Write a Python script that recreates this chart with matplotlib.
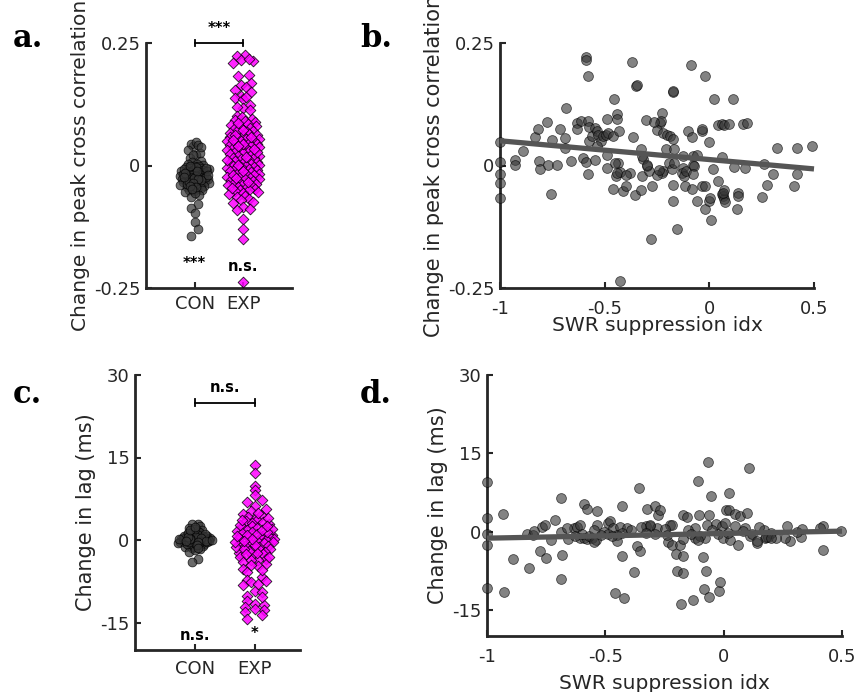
import numpy as np
import matplotlib
matplotlib.use('Agg')
import matplotlib.pyplot as plt

plt.rcParams['font.family'] = ['DejaVu Sans']
plt.rcParams['axes.unicode_minus'] = False

# ---- panel a: change in peak cross correlation per group
groups = ['CON', 'EXP']
con_peak = [0.040, 0.043, 0.047, 0.041, 0.032, 0.021, 0.025, 0.015, 0.022, 0.038,
            0.010, 0.007, 0.004, 0.003, 0.001, -0.001, -0.002, -0.004, -0.006, -0.005,
            -0.008, -0.009, -0.011, -0.010, -0.013, -0.012, -0.015, -0.016, -0.014, -0.018,
            -0.017, -0.020, -0.019, -0.021, -0.023, -0.022, -0.024, -0.026, -0.025, -0.027,
            -0.029, -0.028, -0.030, -0.032, -0.031, -0.033, -0.034, -0.036, -0.035, -0.038,
            -0.040, -0.039, -0.042, -0.044, -0.046, -0.048, -0.051, -0.053, -0.050, -0.055,
            -0.020, -0.038, -0.033, -0.023, -0.060, -0.064, -0.057, -0.078, -0.087, -0.096,
            -0.116, -0.130, -0.143, -0.012, -0.018, -0.025, -0.030, -0.008, -0.015, -0.003,
            -0.027, -0.035, -0.044, -0.005, -0.011, -0.019, -0.024, -0.041, -0.047, -0.002]
exp_peak = [0.225, 0.223, 0.214, 0.215, 0.209, 0.218, 0.185, 0.183, 0.168, 0.164,
            0.160, 0.154, 0.151, 0.142, 0.137, 0.135, 0.140, 0.123, 0.117, 0.113,
            0.120, 0.101, 0.093, 0.098, 0.095, 0.090, 0.088, 0.085, 0.083, 0.080,
            0.079, 0.076, 0.074, 0.071, 0.070, 0.068, 0.065, 0.066, 0.062, 0.061,
            0.059, 0.057, 0.055, 0.054, 0.051, 0.050, 0.049, 0.046, 0.044, 0.045,
            0.041, 0.040, 0.038, 0.035, 0.036, 0.033, 0.031, 0.029, 0.028, 0.025,
            0.024, 0.022, 0.020, 0.019, 0.016, 0.015, 0.013, 0.011, 0.010, 0.008,
            0.006, 0.005, 0.003, 0.001, 0.000, -0.002, -0.003, -0.005, -0.007, -0.008,
            -0.010, -0.012, -0.013, -0.015, -0.017, -0.018, -0.020, -0.022, -0.023, -0.025,
            -0.027, -0.028, -0.030, -0.032, -0.033, -0.035, -0.037, -0.039, -0.040, -0.042,
            -0.044, -0.045, -0.047, -0.049, -0.051, -0.052, -0.055, -0.057, -0.059, -0.062,
            -0.064, -0.068, -0.071, -0.075, -0.077, -0.085, -0.089, -0.091, -0.110, -0.130,
            -0.151, -0.237, 0.072, 0.058, 0.043, 0.027, 0.012, -0.004, -0.019, -0.034,
            0.063, 0.052, 0.039, 0.017, 0.002, -0.011, -0.026, -0.046, 0.086, 0.034]
peak_sig = ['***', 'n.s.']
peak_between = '***'

# ---- panel c: change in lag per group (ms)
con_lag = [3.0, 2.9, 2.6, 2.2, 1.9, 1.6, 1.4, 1.2, 1.0, 0.9,
           0.8, 0.7, 0.6, 0.5, 0.5, 0.4, 0.3, 0.3, 0.2, 0.2,
           0.1, 0.1, 0.0, 0.0, -0.1, -0.1, -0.2, -0.2, -0.3, -0.3,
           -0.4, -0.5, -0.5, -0.6, -0.7, -0.8, -0.9, -1.0, -1.1, -1.3,
           -1.5, -1.7, -2.1, -3.4, -4.0, 0.3, 0.6, 0.9, -0.4, -0.8,
           0.2, 0.4, 0.0, -0.2, 1.1, 1.5, -1.2, 0.7, -0.6, 0.1,
           0.3, -0.1, 0.5, 2.0, -1.9, 0.8, -0.3, 0.0, 1.3, -0.7,
           0.4, 0.2, -0.4, 0.6, -0.9, 1.8, 0.1, -0.2, 2.4, -1.4]
exp_lag = [13.7, 12.2, 9.8, 9.1, 8.2, 7.3, 7.0, 6.1, 5.6, 5.2,
           4.8, 4.5, 4.2, 3.9, 3.6, 3.4, 3.1, 2.9, 2.6, 2.4,
           2.2, 1.9, 1.7, 1.5, 1.3, 1.0, 0.8, 0.6, 0.4, 0.2,
           0.0, -0.2, -0.4, -0.6, -0.8, -1.0, -1.2, -1.4, -1.6, -1.9,
           -2.1, -2.3, -2.6, -2.8, -3.1, -3.4, -3.7, -4.0, -4.4, -4.8,
           -5.2, -5.8, -6.7, -7.3, -8.2, -7.6, -9.2, -9.5, -10.1, -11.0,
           -11.6, -11.9, -12.2, -12.8, -13.1, -14.3, -13.6, -10.4, -8.0, -7.4,
           3.3, 2.0, 1.1, 0.3, -0.5, -1.3, -2.4, -3.6, 4.0, 2.7,
           1.4, 0.5, -0.3, -1.1, -2.0, -3.0, 0.9, -0.9, 1.8, -1.7,
           2.5, -2.5, 0.1, -4.6, 5.0, -5.5, 0.7, -0.1, 3.7, -12.5]
lag_sig = ['n.s.', '*']
lag_between = 'n.s.'

# ---- panel b: peak change vs SWR suppression index
b_x = [-1.0, -1.0, -1.0, -1.0, -1.0, -0.93, -0.93, -0.889, -0.833, -0.82,
       -0.812, -0.81, -0.777, -0.769, -0.756, -0.75, -0.73, -0.713, -0.689, -0.688,
       -0.685, -0.66, -0.634, -0.634, -0.613, -0.602, -0.59, -0.59, -0.578, -0.59,
       -0.578, -0.578, -0.576, -0.573, -0.562, -0.546, -0.546, -0.538, -0.53, -0.517,
       -0.506, -0.494, -0.49, -0.485, -0.49, -0.49, -0.462, -0.459, -0.454, -0.442,
       -0.44, -0.435, -0.447, -0.431, -0.427, -0.414, -0.398, -0.379, -0.368, -0.363,
       -0.352, -0.347, -0.355, -0.326, -0.323, -0.326, -0.315, -0.3, -0.29, -0.304,
       -0.275, -0.278, -0.427, -0.227, -0.236, -0.232, -0.251, -0.22, -0.204, -0.188,
       -0.172, -0.207, -0.191, -0.22, -0.225, -0.18, -0.175, -0.172, -0.175, -0.175,
       -0.156, -0.127, -0.125, -0.13, -0.12, -0.11, -0.116, -0.103, -0.084, -0.084,
       -0.076, -0.076, -0.072, -0.076, -0.087, -0.06, -0.06, -0.036, -0.036, -0.036,
       -0.02, -0.02, -0.02, 0.0, 0.0, 0.003, 0.008, 0.019, 0.022, 0.043,
       0.043, 0.059, 0.07, 0.096, 0.059, 0.06, 0.065, 0.07, 0.075, 0.068,
       0.063, 0.112, 0.139, 0.139, 0.131, 0.118, 0.163, 0.179, 0.171, 0.25,
       0.261, 0.274, 0.306, 0.325, 0.405, 0.418, 0.418, 0.49, -0.538, -0.45,
       -0.44, -0.40, -0.32, -0.30, -0.25, -0.24, -0.17, -0.17, -0.264]
b_y = [0.047, 0.007, -0.018, -0.035, -0.066, 0.011, 0.002, 0.029, 0.059, 0.075,
       0.009, -0.008, 0.089, 0.002, -0.059, 0.052, 0.002, 0.075, 0.036, 0.056,
       0.118, 0.009, 0.086, 0.075, 0.09, 0.016, 0.222, 0.216, 0.182, 0.007,
       -0.018, 0.09, 0.079, 0.05, 0.06, 0.077, 0.012, 0.07, 0.063, 0.05,
       0.06, 0.063, 0.095, 0.067, -0.005, 0.022, 0.06, -0.048, 0.136, 0.106,
       0.094, 0.005, -0.022, 0.07, -0.014, -0.052, -0.042, -0.016, 0.212, 0.058,
       0.162, 0.165, -0.061, 0.033, -0.022, -0.049, 0.014, -0.001, -0.012, 0.092,
       -0.042, -0.149, -0.236, 0.107, 0.087, 0.09, 0.072, 0.067, 0.063, 0.06,
       0.054, 0.033, 0.005, -0.012, -0.015, -0.008, 0.15, 0.152, -0.039, -0.073,
       -0.129, 0.019, -0.005, -0.015, -0.022, -0.012, -0.042, 0.07, 0.059, -0.048,
       0.019, 0.002, -0.001, -0.018, 0.205, 0.022, -0.073, 0.07, 0.074, -0.041,
       -0.041, 0.182, -0.088, 0.048, -0.073, -0.066, -0.112, -0.008, 0.135, -0.032,
       0.082, 0.084, 0.082, 0.085, 0.018, -0.059, -0.063, -0.069, -0.075, -0.049,
       -0.056, 0.135, -0.056, -0.063, -0.088, -0.003, 0.084, 0.087, -0.005, -0.064,
       0.004, -0.039, -0.018, 0.036, -0.041, -0.018, 0.036, 0.039, 0.04, 0.005,
       -0.015, -0.02, 0.02, 0.002, -0.02, -0.01, 0.033, 0.006, 0.088]

# ---- panel d: lag change vs SWR suppression index
d_x = [-1.0, -1.0, -1.0, -1.0, -1.0, -0.931, -0.927, -0.889, -0.832, -0.821,
       -0.807, -0.776, -0.751, -0.769, -0.755, -0.73, -0.713, -0.687, -0.684, -0.687,
       -0.687, -0.656, -0.631, -0.621, -0.607, -0.59, -0.579, -0.534, -0.607, -0.59,
       -0.579, -0.558, -0.539, -0.537, -0.487, -0.48, -0.506, -0.466, -0.438, -0.41,
       -0.452, -0.487, -0.449, -0.431, -0.428, -0.378, -0.365, -0.354, -0.358, -0.459,
       -0.421, -0.325, -0.29, -0.276, -0.33, -0.31, -0.28, -0.269, -0.31, -0.29,
       -0.227, -0.22, -0.234, -0.22, -0.185, -0.202, -0.171, -0.196, -0.173, -0.182,
       -0.128, -0.173, -0.156, -0.107, -0.103, -0.061, -0.121, -0.121, -0.079, -0.072,
       -0.086, -0.075, -0.083, -0.061, -0.068, -0.055, -0.033, -0.008, 0.005, -0.023,
       -0.002, -0.019, -0.016, 0.01, 0.024, 0.048, 0.069, 0.097, 0.024, 0.027,
       0.062, 0.048, 0.09, 0.108, 0.111, 0.139, 0.175, 0.189, 0.17, 0.266,
       0.28, 0.259, 0.325, 0.308, 0.421, 0.407, 0.421, 0.494, -0.6, -0.57,
       -0.55, -0.52, -0.47, -0.43, -0.39, -0.35, -0.33, -0.25, -0.24, -0.15,
       -0.14, -0.1, -0.05, 0.02, 0.08, 0.12, 0.2, 0.22, 0.15, 0.33,
       -0.8, -0.66, -0.63, -0.55, -0.17, -0.11, 0.14, 0.18, 0.2]
d_y = [9.5, 2.7, -0.4, -2.6, -10.9, 3.3, -11.6, -5.3, -0.4, -6.9,
       -0.7, -3.8, -5.0, 0.9, 1.2, -1.7, 2.2, 6.5, -4.4, -9.1,
       0.0, -1.5, 0.6, 0.9, 1.2, 5.3, 4.4, 3.9, -1.2, -1.3,
       -1.5, -1.2, -1.7, 1.3, 1.7, 2.0, 0.0, 0.6, 0.9, 0.6,
       -0.7, -0.4, -1.8, 5.0, -4.6, -7.8, -2.7, -3.8, 8.3, -11.8,
       -12.8, 4.4, 4.9, 3.1, 1.1, 1.0, 0.6, 4.1, 1.2, -0.4,
       1.2, 1.3, -2.0, -2.5, -2.6, -4.2, -4.6, -7.6, -8.0, -13.9,
       -13.1, 3.1, 2.8, 9.6, 3.2, 3.2, 0.6, -1.2, -1.3, 1.2,
       -4.8, -7.5, -11.0, -12.5, 13.4, 6.9, 1.5, 1.1, 1.7, -0.4,
       -1.3, -11.4, -9.6, 4.1, 4.1, 3.4, 3.0, 3.6, 7.4, -1.7,
       -2.5, 1.1, 0.7, 12.1, -0.8, -2.1, -1.3, -1.0, 0.3, 1.1,
       -1.8, -1.3, -1.0, -0.1, 1.1, 0.6, -3.6, 0.1, -0.5, -0.8,
       0.3, -0.6, -0.9, -0.3, 0.4, 0.8, -0.2, 0.5, -0.6, 0.3,
       -0.5, -0.9, 0.4, -0.3, 0.2, -0.5, -0.2, -1.2, 0.8, 0.5,
       0.2, 0.7, -0.9, -1.9, -1.5, -1.6, -1.8, -1.1, -1.3]

TXT = '#262626'
GREY_FACE = '#383838'
MAG = '#ff00ff'
W, H = 860, 692


def px_axes(fig, left, top, right, bottom):
    return fig.add_axes([left / W, 1 - bottom / H, (right - left) / W, (bottom - top) / H])


def spread(vals, center, width, binsize):
    # plotSpread-like deterministic spread: wider where points are denser
    vals = np.asarray(vals, float)
    nb = max(1, int(np.ceil((vals.max() - vals.min()) / binsize)))
    edges = np.linspace(vals.min(), vals.max(), nb + 1)
    idx = np.clip(np.digitize(vals, edges) - 1, 0, nb - 1)
    counts = np.bincount(idx, minlength=nb)
    xs = np.full(len(vals), float(center))
    for b in range(nb):
        m = np.where(idx == b)[0]
        n = len(m)
        if n < 2:
            continue
        w = width * min(1.0, (n / counts.max()) ** 0.6)
        offs = np.linspace(-w, w, n)
        perm = np.argsort((np.arange(n) * 0.618) % 1.0)
        xs[m[np.argsort(vals[m])]] = center + offs[perm]
    return xs


def style(ax, xpad):
    for s in ['top', 'right']:
        ax.spines[s].set_visible(False)
    for s in ['left', 'bottom']:
        ax.spines[s].set_linewidth(2.0)
        ax.spines[s].set_color(TXT)
    ax.tick_params(direction='in', length=4, width=1.5, colors=TXT, labelsize=13, pad=4)
    ax.tick_params(axis='x', pad=xpad)


def sig_bar(ax, y, cap, text, ytext):
    ax.plot([1, 2], [y, y], color='black', lw=1.3, clip_on=False)
    for xx in (1, 2):
        ax.plot([xx, xx], [y - cap, y + cap], color='black', lw=1.3, clip_on=False)
    ax.text(1.5, ytext, text, ha='center', va='center', fontsize=10.5,
            fontweight='bold', color='black', clip_on=False)


fig = plt.figure(figsize=(8.6, 6.92), dpi=100)

# a
ax = px_axes(fig, 146, 43, 292, 288)
ax.scatter(spread(con_peak, 1, 0.3, 0.018), con_peak, s=40, marker='o',
           facecolor=GREY_FACE, edgecolor='black', linewidths=0.6, alpha=0.72, zorder=3)
ax.scatter(spread(exp_peak, 2, 0.33, 0.018), exp_peak, s=30, marker='D',
           facecolor=MAG, edgecolor='black', linewidths=0.6, alpha=0.85, zorder=3)
ax.set_xlim(0, 3)
ax.set_ylim(-0.25, 0.25)
ax.set_xticks([1, 2])
ax.set_xticklabels(groups)
ax.set_yticks([-0.25, 0, 0.25])
ax.set_yticklabels(['-0.25', '0', '0.25'])
style(ax, 5)
ax.set_ylabel('Change in peak cross correlation', fontsize=14.5, color=TXT, labelpad=3)
sig_bar(ax, 0.25, 0.006, peak_between, 0.28)
for xx, t, yy in zip([1, 2], peak_sig, [-0.20, -0.206]):
    ax.text(xx, yy, t, ha='center', va='center', fontsize=10.5, fontweight='bold')

# b
ax = px_axes(fig, 500, 43, 814, 288)
ax.scatter(b_x, b_y, s=50, marker='o', facecolor=GREY_FACE, edgecolor='black',
           linewidths=0.6, alpha=0.62, zorder=3, clip_on=False)
cb = np.polyfit(b_x, b_y, 1)
lx = np.array([-1, 0.5])
ax.plot(lx, np.polyval(cb, lx), color='#555555', lw=3.8, zorder=4,
        solid_capstyle='butt', clip_on=False)
ax.set_xlim(-1, 0.5)
ax.set_ylim(-0.25, 0.25)
ax.set_xticks([-1, -0.5, 0, 0.5])
ax.set_xticklabels(['-1', '-0.5', '0', '0.5'])
ax.set_yticks([-0.25, 0, 0.25])
ax.set_yticklabels(['-0.25', '0', '0.25'])
style(ax, 8.5)
ax.set_ylabel('Change in peak cross correlation', fontsize=15, color=TXT, labelpad=3)
ax.set_xlabel('SWR suppression idx', fontsize=14.5, color=TXT, labelpad=-1)

# c
ax = px_axes(fig, 135, 375, 300, 650)
ax.scatter(spread(con_lag, 1, 0.28, 0.9), con_lag, s=40, marker='o',
           facecolor=GREY_FACE, edgecolor='black', linewidths=0.6, alpha=0.75, zorder=3)
ax.scatter(spread(exp_lag, 2, 0.33, 1.0), exp_lag, s=30, marker='D',
           facecolor=MAG, edgecolor='black', linewidths=0.6, alpha=0.85, zorder=3)
ax.set_xlim(0, 2.76)
ax.set_ylim(-20, 30)
ax.set_xticks([1, 2])
ax.set_xticklabels(groups)
ax.set_yticks([-15, 0, 15, 30])
style(ax, 7)
ax.set_ylabel('Change in lag (ms)', fontsize=15, color=TXT, labelpad=3)
sig_bar(ax, 25, 0.6, lag_between, 27.7)
for xx, t, yy in zip([1, 2], lag_sig, [-17.4, -17.0]):
    ax.text(xx, yy, t, ha='center', va='center', fontsize=10.5, fontweight='bold')

# d
ax = px_axes(fig, 487, 375, 842, 636)
ax.scatter(d_x, d_y, s=50, marker='o', facecolor=GREY_FACE, edgecolor='black',
           linewidths=0.6, alpha=0.62, zorder=3, clip_on=False)
cd = np.polyfit(d_x, d_y, 1)
ax.plot(lx, np.polyval(cd, lx), color='#555555', lw=3.8, zorder=4,
        solid_capstyle='butt', clip_on=False)
ax.set_xlim(-1, 0.5)
ax.set_ylim(-20, 30)
ax.set_xticks([-1, -0.5, 0, 0.5])
ax.set_xticklabels(['-1', '-0.5', '0', '0.5'])
ax.set_yticks([-15, 0, 15, 30])
style(ax, 8.5)
ax.set_ylabel('Change in lag (ms)', fontsize=15, color=TXT, labelpad=3)
ax.set_xlabel('SWR suppression idx', fontsize=14.5, color=TXT, labelpad=6)

# panel letters
for lab, x0, y0 in [('a.', 13, 47), ('b.', 360, 47), ('c.', 13, 403), ('d.', 360, 403)]:
    fig.text(x0 / W, 1 - y0 / H, lab, fontsize=22, fontweight='bold',
             family='DejaVu Serif', ha='left', va='baseline')

fig.savefig('out.png', dpi=100)
